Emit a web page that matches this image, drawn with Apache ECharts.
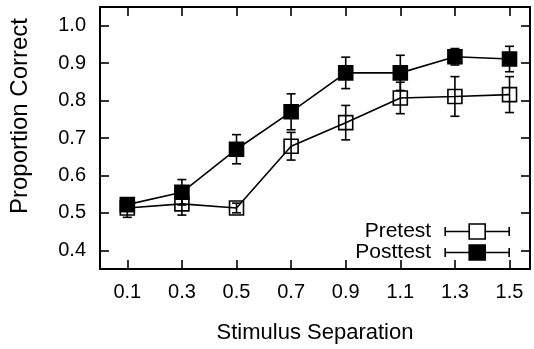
<!DOCTYPE html>
<html>
<head>
<meta charset="utf-8">
<script src="https://cdn.jsdelivr.net/npm/echarts@6/dist/echarts.min.js"></script>
<style>
  html, body { margin: 0; padding: 0; background: #fff; }
  #main { width: 534px; height: 349px; }
</style>
</head>
<body>
<div id="main"></div>
<script>
// stimulus separation values
const separations = [0.1, 0.3, 0.5, 0.7, 0.9, 1.1, 1.3, 1.5]
const yTicks = [0.4, 0.5, 0.6, 0.7, 0.8, 0.9, 1.0]

// proportion correct and error bar half-lengths
const pretest = [0.513, 0.524, 0.513, 0.678, 0.741, 0.807, 0.811, 0.816]
const pretestErr = [0.025, 0.030, 0.013, 0.037, 0.046, 0.042, 0.053, 0.048]
const posttest = [0.522, 0.555, 0.670, 0.770, 0.874, 0.874, 0.917, 0.911]
const posttestErr = [0.012, 0.034, 0.039, 0.048, 0.042, 0.047, 0.022, 0.034]

const font = 'Liberation Sans'
const legendIcon = 'path://M0,3.5V12.5M0,8H24M24,0.5H40V15.5H24ZM40,8H64M64,3.5V12.5'

const points = (ys) => separations.map((x, i) => [x, ys[i]])
const bars = (ys, errs) => separations.map((x, i) => [x, ys[i] - errs[i], ys[i] + errs[i]])

// vertical error bar with small caps
const errorBar = (params, api) => {
  const lo = api.coord([api.value(0), api.value(1)])
  const hi = api.coord([api.value(0), api.value(2)])
  const cap = 4.5
  const style = { stroke: '#000', lineWidth: 1.6 }
  return {
    type: 'group',
    children: [
      { type: 'line', shape: { x1: lo[0], y1: lo[1], x2: hi[0], y2: hi[1] }, style },
      { type: 'line', shape: { x1: lo[0] - cap, y1: lo[1], x2: lo[0] + cap, y2: lo[1] }, style },
      { type: 'line', shape: { x1: hi[0] - cap, y1: hi[1], x2: hi[0] + cap, y2: hi[1] }, style }
    ]
  }
}

const axisLine = { show: true, onZero: false, lineStyle: { color: '#000', width: 2 } }
const tick = { show: true, inside: true, length: 9, lineStyle: { color: '#000', width: 1.6 } }

// one legend per row so each row can be placed on its own
const legendRow = (item, top) => ({
  orient: 'vertical',
  right: 24,
  top,
  padding: 0,
  align: 'right',
  icon: legendIcon,
  itemWidth: 64,
  itemHeight: 16,
  textStyle: { fontFamily: font, fontSize: 21, color: '#000', padding: [0, 9, 0, 0] },
  data: [item]
})

const chart = echarts.init(document.getElementById('main'))
chart.setOption({
  animation: false,
  backgroundColor: '#fff',
  grid: { left: 100, right: 4, top: 7, bottom: 73 },
  legend: [
    legendRow({ name: 'Pretest', itemStyle: { color: 'rgba(0,0,0,0)', borderColor: '#000', borderWidth: 1.6 } }, 221),
    legendRow({ name: 'Posttest', itemStyle: { color: '#000', borderColor: '#000', borderWidth: 1.6 } }, 242)
  ],
  xAxis: [
    {
      type: 'value',
      min: 0,
      max: 1.575,
      name: 'Stimulus Separation',
      nameLocation: 'middle',
      nameGap: 53,
      nameTextStyle: { fontFamily: font, fontSize: 22, color: '#000' },
      axisLine,
      axisTick: { ...tick, customValues: separations },
      axisLabel: {
        customValues: separations,
        margin: 13,
        fontFamily: font,
        fontSize: 20,
        color: '#000',
        formatter: (v) => v.toFixed(1)
      },
      splitLine: { show: false }
    },
    {
      type: 'value',
      position: 'top',
      min: 0,
      max: 1.575,
      axisLine,
      axisTick: { ...tick, customValues: separations },
      axisLabel: { show: false },
      splitLine: { show: false }
    }
  ],
  yAxis: [
    {
      type: 'value',
      min: 0.35,
      max: 1.05,
      name: 'Proportion Correct',
      nameLocation: 'middle',
      nameGap: 68,
      nameTextStyle: { fontFamily: font, fontSize: 24, color: '#000', padding: [0, 0, 0, 44] },
      axisLine,
      axisTick: { ...tick, customValues: yTicks },
      axisLabel: {
        customValues: yTicks,
        margin: 14,
        fontFamily: font,
        fontSize: 20,
        color: '#000',
        formatter: (v) => v.toFixed(1)
      },
      splitLine: { show: false }
    },
    {
      type: 'value',
      position: 'right',
      min: 0.35,
      max: 1.05,
      axisLine,
      axisTick: { ...tick, customValues: yTicks },
      axisLabel: { show: false },
      splitLine: { show: false }
    }
  ],
  series: [
    {
      name: 'Pretest',
      type: 'custom',
      renderItem: errorBar,
      data: bars(pretest, pretestErr),
      z: 3
    },
    {
      name: 'Posttest',
      type: 'custom',
      renderItem: errorBar,
      data: bars(posttest, posttestErr),
      z: 3
    },
    {
      name: 'Pretest',
      type: 'line',
      data: points(pretest),
      symbol: 'rect',
      symbolSize: 14,
      lineStyle: { color: '#000', width: 1.6 },
      itemStyle: { color: 'rgba(0,0,0,0)', borderColor: '#000', borderWidth: 1.6 },
      emphasis: { disabled: true },
      z: 4
    },
    {
      name: 'Posttest',
      type: 'line',
      data: points(posttest),
      symbol: 'rect',
      symbolSize: 14,
      lineStyle: { color: '#000', width: 1.6 },
      itemStyle: { color: '#000', borderColor: '#000', borderWidth: 1.6 },
      emphasis: { disabled: true },
      z: 5
    }
  ]
})
</script>
</body>
</html>
